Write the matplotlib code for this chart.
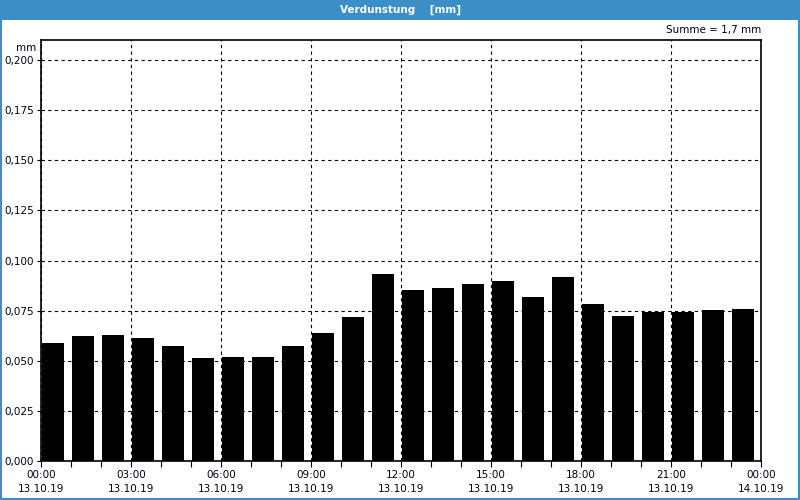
import numpy as np
import matplotlib.pyplot as plt
from matplotlib.patches import Rectangle
from matplotlib.ticker import FuncFormatter, MultipleLocator

plt.rcParams.update({
    'font.family': ['DejaVu Sans'],
    'font.size': 7.5,
    'text.color': '#00001a',
    'xtick.color': 'black',
    'ytick.color': 'black',
    'xtick.labelcolor': '#00001a',
    'ytick.labelcolor': '#00001a',
})

# stündliche Verdunstung [mm], 13.10.19 00:00 - 14.10.19 00:00
hours = np.arange(24)
verdunstung = [0.0589, 0.0623, 0.0628, 0.0613, 0.0574, 0.0514, 0.0519, 0.0519,
               0.0574, 0.0638, 0.0718, 0.0933, 0.0853, 0.0863, 0.0883, 0.0898,
               0.0818, 0.0918, 0.0783, 0.0723, 0.0743, 0.0743, 0.0753, 0.0758]
tick_hours = [0, 3, 6, 9, 12, 15, 18, 21, 24]
tick_labels = ['00:00\n13.10.19', '03:00\n13.10.19', '06:00\n13.10.19',
               '09:00\n13.10.19', '12:00\n13.10.19', '15:00\n13.10.19',
               '18:00\n13.10.19', '21:00\n13.10.19', '00:00\n14.10.19']
summe = 1.7

blau = '#3c8fc6'

fig = plt.figure(figsize=(8, 5), dpi=100)
fig.patch.set_facecolor('white')

# Titelleiste und Fensterrahmen
fig.patches.append(Rectangle((0, 480 / 500), 1, 20 / 500, transform=fig.transFigure,
                             facecolor=blau, edgecolor='none', zorder=0))
fig.patches.append(Rectangle((0.75 / 800, 0.75 / 500), 798.5 / 800, 498 / 500,
                             transform=fig.transFigure, facecolor='none',
                             edgecolor=blau, linewidth=1.5, zorder=0))
fig.text(0.5, 490 / 500, 'Verdunstung    [mm]', color='white', fontweight='bold',
         ha='center', va='center', fontsize=7.5)

ax = fig.add_axes([41 / 800, 39 / 500, 720 / 800, 421 / 500])
ax.bar(hours + 0.03, verdunstung, width=0.74, align='edge', color='black', zorder=3)

ax.set_xlim(0, 24)
ax.set_ylim(0, 0.21)
ax.set_xticks(tick_hours)
ax.set_xticklabels(tick_labels, linespacing=1.45)
ax.xaxis.set_minor_locator(MultipleLocator(1))
ax.yaxis.set_major_locator(MultipleLocator(0.025))
ax.yaxis.set_major_formatter(FuncFormatter(lambda v, p: f'{v:.3f}'.replace('.', ',')))
ax.tick_params(axis='x', which='both', length=4, width=0.8, direction='out', pad=2.5)
ax.tick_params(axis='y', length=3, width=0.8, direction='out', pad=2)

ax.grid(True, color='black', linestyle=(0, (3, 3)), linewidth=0.8, zorder=1)
for s in ax.spines.values():
    s.set_linewidth(1.2)
    s.set_zorder(4)

ax.text(-0.007, 0.993, 'mm', transform=ax.transAxes, ha='right', va='top')
ax.text(1.0, 1.012, f'Summe = {summe:.1f}'.replace('.', ',') + ' mm',
        transform=ax.transAxes, ha='right', va='bottom')

plt.savefig('out.png', dpi=100)
